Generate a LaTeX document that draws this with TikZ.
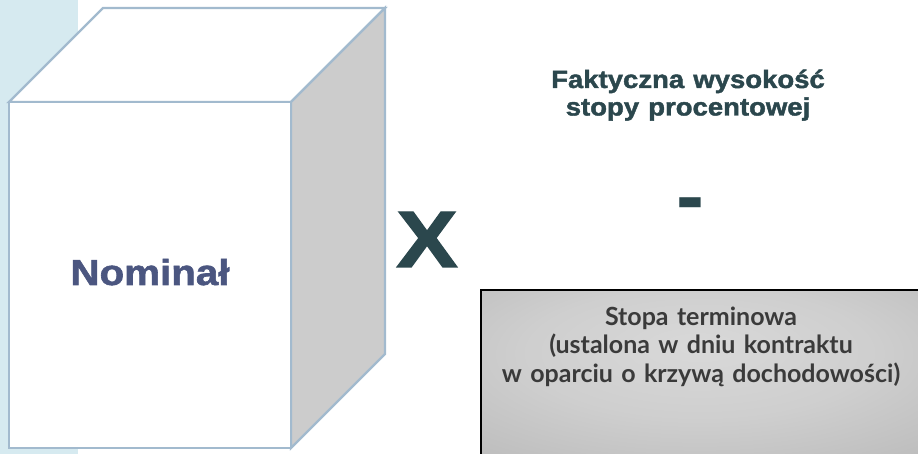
\documentclass[tikz,border=0pt]{standalone}
\usepackage{fontspec}
\usepackage{graphicx}
\setmainfont{Liberation Sans}
\newfontfamily\boxfont{Lato}
% extra-heavy face for the large labels
\newfontfamily\heavyfont{Liberation Sans}[BoldFeatures={FakeBold=1.6}]
\usetikzlibrary{shadings}

% heavy sans look: bold face widened a little
\newcommand{\heavywide}[2][1.12]{\scalebox{#1}[1]{#2}}

\definecolor{stripblue}{HTML}{D6EAF0}
\definecolor{cubeedge}{HTML}{A2BACE}
\definecolor{cubeside}{HTML}{CCCCCC}
\definecolor{nomcol}{HTML}{4B5680}
\definecolor{darkteal}{HTML}{2B474D}
\definecolor{boxtext}{HTML}{3A3A3A}

% soft glow, lighter in the upper middle of the box
\pgfdeclareradialshading{boxglow}{\pgfpoint{0bp}{8bp}}{%
  color(0bp)=(black!15);
  color(20bp)=(black!19);
  color(45bp)=(black!28);
  color(75bp)=(black!34)}

\tikzset{
  cubeface/.style={draw=cubeedge, line width=2.4pt, line join=miter},
  heavytext/.style={inner sep=0pt, text=darkteal},
}

\begin{document}
\begin{tikzpicture}[x=1pt, y=-1pt]
  \useasboundingbox (0,0) rectangle (918,454);

  % light strip on the left edge
  \fill[stripblue] (0,0) rectangle (78,454);

  % cube: front, top and shaded right face
  \coordinate (fl) at (9,102);
  \coordinate (fr) at (291,102);
  \coordinate (br) at (291,448);
  \coordinate (bl) at (9,448);
  \coordinate (tl) at (103,8);
  \coordinate (tr) at (385,8);
  \coordinate (sr) at (385,354);
  \filldraw[cubeface, fill=white] (fl) -- (tl) -- (tr) -- (fr) -- cycle;
  \filldraw[cubeface, fill=cubeside] (fr) -- (tr) -- (sr) -- (br) -- cycle;
  \filldraw[cubeface, fill=white] (fl) rectangle (br);

  \node[inner sep=0pt, anchor=base, text=nomcol,
        font=\heavyfont\fontsize{36}{40}\selectfont\bfseries]
    (nominal) at (150,285) {\heavywide[1.12]{Nominał}};

  % multiplication sign
  \node[heavytext, anchor=base, font=\heavyfont\fontsize{80}{80}\selectfont\bfseries]
    (times) at (427,267) {\heavywide[1.15]{X}};

  % upper term
  \node[heavytext, anchor=base, text width=320pt, align=center,
        font=\heavyfont\fontsize{25}{27.5}\selectfont\bfseries]
    (actual) at (688,88)
    {\heavywide[1.1]{Faktyczna wysokość}\\\heavywide[1.1]{stopy procentowej}};

  % minus sign
  \node[heavytext, anchor=base, font=\fontsize{84}{84}\selectfont\bfseries]
    (minus) at (690,224.5) {-};

  % lower term in a shaded box
  \shade[shading=boxglow] (481,290) rectangle (918,454);
  \draw[black, line width=1.5pt] (481,454) -- (481,290) -- (918,290);
  \node[inner sep=0pt, anchor=base, text width=430pt, align=center,
        text=boxtext, font=\boxfont\fontsize{25}{28.5}\selectfont\bfseries]
    (forward) at (701,325)
    {Stopa terminowa\\(ustalona w dniu kontraktu\\w oparciu o krzywą dochodowości)};
\end{tikzpicture}
\end{document}
